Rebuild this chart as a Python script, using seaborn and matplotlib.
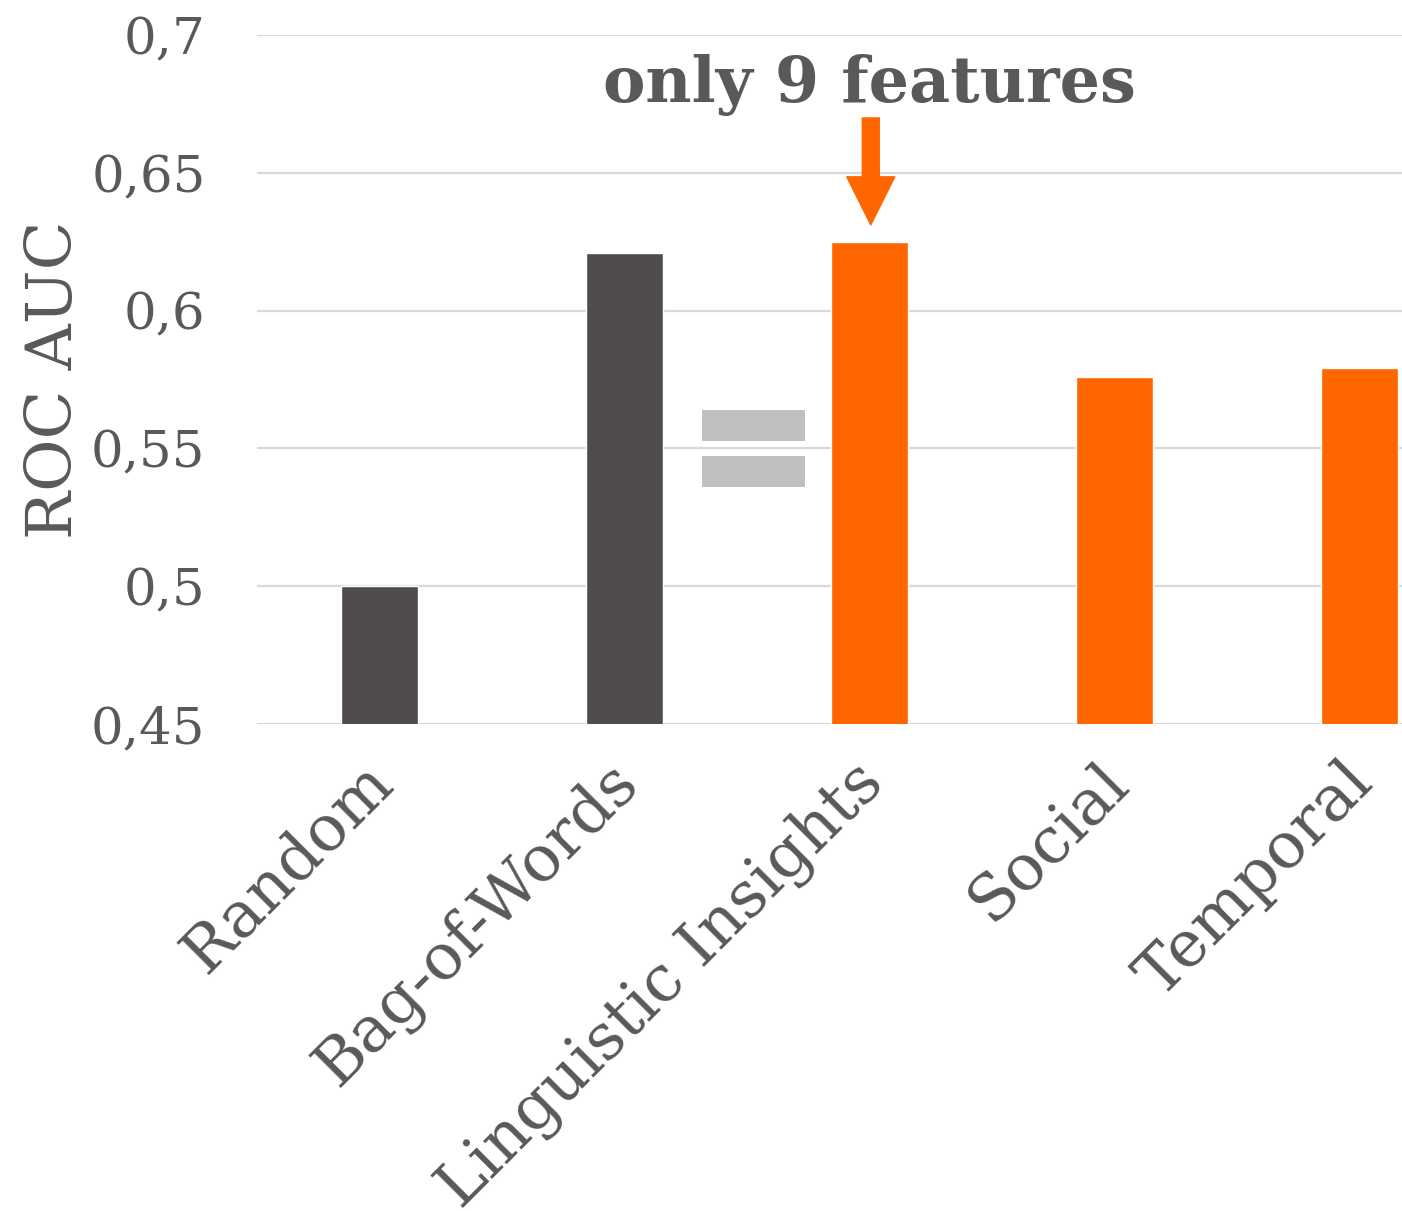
import matplotlib
matplotlib.use("Agg")
import matplotlib.pyplot as plt
import seaborn as sns
import pandas as pd
from matplotlib.patches import Rectangle
from matplotlib.transforms import ScaledTranslation

categories = ["Random", "Bag-of-Words", "Linguistic Insights", "Social", "Temporal"]
roc_auc = [0.500, 0.621, 0.625, 0.576, 0.579]
bar_colors = ["#504C4B", "#504C4B", "#FF6600", "#FF6600", "#FF6600"]
y_ticks = [0.45, 0.50, 0.55, 0.60, 0.65, 0.70]
y_tick_labels = ["0,45", "0,5", "0,55", "0,6", "0,65", "0,7"]
annotation_text = "only 9 features"

TEXT = "#595959"
GRID = "#D9D9D9"

sns.set_theme(style="white")
plt.rcParams["font.family"] = ["DejaVu Serif"]

df = pd.DataFrame({"category": categories, "auc": roc_auc})

fig = plt.figure(figsize=(14.02, 12.11), dpi=100)
ax = fig.add_axes([257 / 1402, 487 / 1211, 1145 / 1402, 689 / 1211])

sns.barplot(data=df, x="category", y="auc", hue="category", palette=bar_colors,
            legend=False, width=0.314, ax=ax, saturation=1, zorder=3)

ax.set_ylim(0.45, 0.70)
ax.set_xlim(-0.5, 4.173)
ax.set_yticks(y_ticks)
ax.set_yticklabels(y_tick_labels)
ax.yaxis.grid(True, color=GRID, linewidth=1.6, zorder=0)
ax.set_axisbelow(True)
for s in ax.spines.values():
    s.set_visible(False)

ax.tick_params(axis="y", length=0, pad=37, labelsize=37, labelcolor=TEXT)
ax.tick_params(axis="x", length=0, pad=26, labelsize=46, labelcolor=TEXT)
ax.set_xlabel("")
ax.set_ylabel("ROC AUC", fontsize=46, color=TEXT)
ax.yaxis.set_label_coords(-0.15, 0.5)

offset = ScaledTranslation(-18 / 100, 9 / 100, fig.dpi_scale_trans)
for lab in ax.get_xticklabels():
    lab.set_rotation(45)
    lab.set_ha("right")
    lab.set_va("top")
    lab.set_rotation_mode("anchor")
    lab.set_transform(lab.get_transform() + offset)

# equals sign between Bag-of-Words and Linguistic Insights
for y0, y1 in [(0.5527, 0.5639), (0.5360, 0.5472)]:
    ax.add_patch(Rectangle((1.316, y0), 0.421, y1 - y0, facecolor="#C0BFBF",
                           edgecolor="none", zorder=4))

# arrow and annotation text
ax.annotate("", xy=(2.005, 0.6311), xytext=(2.005, 0.6699),
            arrowprops=dict(arrowstyle="simple,head_length=34.6,head_width=34.6,tail_width=12.2",
                            mutation_scale=1, color="#FF6600", shrinkA=0, shrinkB=0),
            zorder=5)
ax.text(2.0, 0.6757, annotation_text, ha="center", va="baseline",
        fontsize=45.8, fontweight="bold", color=TEXT)

fig.savefig("out.png", dpi=100, facecolor="white")
